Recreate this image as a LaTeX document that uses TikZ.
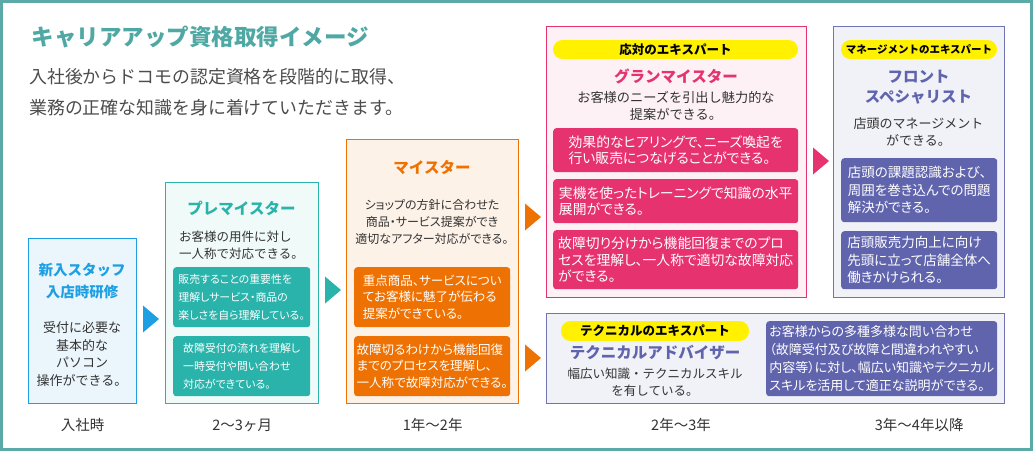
\documentclass[tikz,border=0pt]{standalone}
\usepackage{fontspec}
\setmainfont{Noto Sans CJK JP}
\newfontfamily\propfont{Noto Sans CJK JP}[RawFeature=+palt]
\usepackage{tikz}
\usetikzlibrary{calc}
\definecolor{cFrame}{HTML}{5BAAA7}
\definecolor{cHead}{HTML}{4FA8A3}
\definecolor{cNew}{HTML}{1E9FE3}
\definecolor{cPre}{HTML}{2AB3AA}
\definecolor{cMei}{HTML}{EE7203}
\definecolor{cGrd}{HTML}{E6336F}
\definecolor{cMgr}{HTML}{6064AD}
\definecolor{cPill}{HTML}{FFF100}
\definecolor{cInk}{HTML}{333333}
\tikzset{
  stage/.style  = {draw, line width=1.4pt, anchor=north west, inner sep=0pt},
  newst/.style  = {stage, draw=cNew, fill=cNew!9},
  prest/.style  = {stage, draw=cPre, fill=cPre!7},
  meist/.style  = {stage, draw=cMei, fill=cMei!9},
  grdst/.style  = {stage, draw=cGrd, fill=cGrd!7},
  mgrst/.style  = {stage, draw=cMgr!90, fill=cMgr!9},
  ttl/.style    = {font=\bfseries\fontsize{15.5}{20}\selectfont, align=center},
  desc/.style   = {font=\fontsize{12.5}{16.5}\selectfont, text=cInk, align=center},
  inbox/.style  = {anchor=north west, rounded corners=3pt, text=white,
                   align=left, inner sep=0pt,
                   font=\propfont\fontsize{13}{17}\selectfont},
  pill/.style   = {fill=cPill, rounded corners=9.5pt, minimum height=19pt,
                   inner sep=0pt, text=black,
                   font=\bfseries\fontsize{12.5}{14}\selectfont},
  period/.style = {font=\fontsize{14.5}{16}\selectfont, text=cInk},
}

\begin{document}
\begin{tikzpicture}[x=1pt, y=-1pt]
  \useasboundingbox (0,0) rectangle (1033,451);
  \draw[cFrame, line width=3pt] (1.5,1.5) rectangle (1031.5,449.5);

  % heading
  \node[anchor=west, text=cHead, font=\bfseries\fontsize{22.5}{26}\selectfont]
    (head) at (28,37) {キャリアアップ資格取得イメージ};
  \node[anchor=north west, align=left, text=black!70, inner sep=0pt,
        font=\fontsize{17.9}{30.5}\selectfont] (lead) at (29,68.5)
    {入社後からドコモの認定資格を段階的に取得、\\
     業務の正確な知識を身に着けていただきます。};

  % stages
  \node[newst, minimum width=108pt, minimum height=165pt] (staff) at (28,238) {};
  \node[prest, minimum width=153pt, minimum height=221pt] (pre)   at (165,182) {};
  \node[meist, minimum width=172pt, minimum height=264pt] (mei)   at (346,139) {};
  \node[grdst, minimum width=260pt, minimum height=271pt] (grd)   at (546,26) {};
  \node[mgrst, minimum width=171pt, minimum height=271pt] (frt)   at (833,26) {};
  \node[mgrst, minimum width=458pt, minimum height=90pt]  (tch)   at (546,313) {};

  % new staff
  \node[ttl, text=cNew, font=\bfseries\fontsize{14.5}{22}\selectfont]
    (staffT) at (82,281) {新入スタッフ\\入店時研修};
  \node[desc, font=\fontsize{13}{17.5}\selectfont] (staffD) at (82,354)
    {受付に必要な\\基本的な\\パソコン\\操作ができる。};

  % pre meister
  \node[ttl, text=cPre] (preT) at (241.5,208) {プレマイスター};
  \node[desc, align=left] (preD) at (241.5,245)
    {お客様の用件に対し\\一人称で対応できる。};
  \node[inbox, fill=cPre, minimum width=137pt, minimum height=60pt,
        font=\propfont\fontsize{10.9}{18}\selectfont] (pre1) at (173,267)
    {販売することの重要性を\\理解しサービス・商品の\\楽しさを自ら理解している。};
  \node[inbox, fill=cPre, minimum width=137pt, minimum height=60pt,
        font=\propfont\fontsize{10.9}{18}\selectfont] (pre2) at (173,336)
    {故障受付の流れを理解し\\一時受付や問い合わせ\\対応ができている。};

  % meister
  \node[ttl, text=cMei] (meiT) at (432,168) {マイスター};
  \node[desc, font=\propfont\fontsize{12}{16.7}\selectfont] (meiD) at (432,222)
    {ショップの方針に合わせた\\商品・サービス提案ができ\\適切なアフター対応ができる。};
  \node[inbox, fill=cMei, minimum width=156pt, minimum height=60pt,
        font=\propfont\fontsize{12.5}{16.7}\selectfont] (mei1) at (354,267)
    {重点商品、サービスについ\\てお客様に魅了が伝わる\\提案ができている。};
  \node[inbox, fill=cMei, minimum width=156pt, minimum height=60pt,
        font=\propfont\fontsize{12.5}{16.7}\selectfont] (mei2) at (354,336)
    {故障切るわけから機能回復\\までのプロセスを理解し、\\一人称で故障対応ができる。};

  % grand meister
  \node[pill, minimum width=245pt] (grdP) at (675.5,49.5) {応対のエキスパート};
  \node[ttl, text=cGrd] (grdT) at (676,76.5) {グランマイスター};
  \node[desc, font=\fontsize{13.2}{17}\selectfont] (grdD) at (676,105.5)
    {お客様のニーズを引出し魅力的な\\提案ができる。};
  \node[inbox, fill=cGrd, minimum width=245pt, minimum height=44pt,
        font=\propfont\fontsize{13.8}{16.5}\selectfont] (grd1) at (553,128)
    {効果的なヒアリングで、ニーズ喚起を\\行い販売につなげることができる。};
  \node[inbox, fill=cGrd, minimum width=245pt, minimum height=44pt,
        font=\propfont\fontsize{13.8}{16.5}\selectfont] (grd2) at (553,179)
    {実機を使ったトレーニングで知識の水平\\展開ができる。};
  \node[inbox, fill=cGrd, minimum width=245pt, minimum height=59pt,
        font=\propfont\fontsize{13.8}{16.8}\selectfont] (grd3) at (553,230)
    {故障切り分けから機能回復までのプロ\\セスを理解し、一人称で適切な故障対応\\ができる。};

  % front specialist
  \node[pill, minimum width=156pt, font=\bfseries\fontsize{10.5}{12}\selectfont]
    (frtP) at (919,49.5) {マネージメントのエキスパート};
  \node[ttl, text=cMgr] (frtT) at (918.5,87) {フロント\\スペシャリスト};
  \node[desc, font=\fontsize{13}{17}\selectfont] (frtD) at (918.5,131.5)
    {店頭のマネージメント\\ができる。};
  \node[inbox, fill=cMgr, minimum width=156pt, minimum height=64pt,
        font=\propfont\fontsize{13.5}{17.5}\selectfont] (frt1) at (841,158)
    {店頭の課題認識および、\\周囲を巻き込んでの問題\\解決ができる。};
  \node[inbox, fill=cMgr, minimum width=156pt, minimum height=58pt,
        font=\propfont\fontsize{13.5}{17.5}\selectfont] (frt2) at (841,231)
    {店頭販売力向上に向け\\先頭に立って店舗全体へ\\働きかけられる。};

  % technical adviser
  \node[pill, minimum width=188pt, minimum height=20pt] (tchP) at (655,331)
    {テクニカルのエキスパート};
  \node[ttl, text=cMgr] (tchT) at (655,353) {テクニカルアドバイザー};
  \node[desc] (tchD) at (655,382) {幅広い知識・テクニカルスキル\\を有している。};
  \node[inbox, fill=cMgr, minimum width=231pt, minimum height=75pt,
        font=\propfont\fontsize{13}{17.8}\selectfont] (tch1) at (766,321)
    {お客様からの多種多様な問い合わせ\\（故障受付及び故障と間違われやすい\\
     内容等）に対し、幅広い知識やテクニカル\\スキルを活用して適正な説明ができる。};

  % step marks
  \foreach \x/\y/\col in {151/319/cNew, 333/290/cPre, 533/217/cMei,
                          533/358/cMei, 821/161/cGrd}
    \fill[\col] (\x,\y) ++(-8,-13.5) -- ++(16,13.5) -- ++(-16,13.5) -- cycle;

  % periods
  \coordinate (base) at (0,425);
  \node[period] (p1) at (staff.south |- base) {入社時};
  \node[period] (p2) at (pre.south |- base)   {2〜3ヶ月};
  \node[period] (p3) at (mei.south |- base)   {1年〜2年};
  \node[period] (p4) at (681,425)             {2年〜3年};
  \node[period] (p5) at (frt.south |- base)   {3年〜4年以降};
\end{tikzpicture}
\end{document}
